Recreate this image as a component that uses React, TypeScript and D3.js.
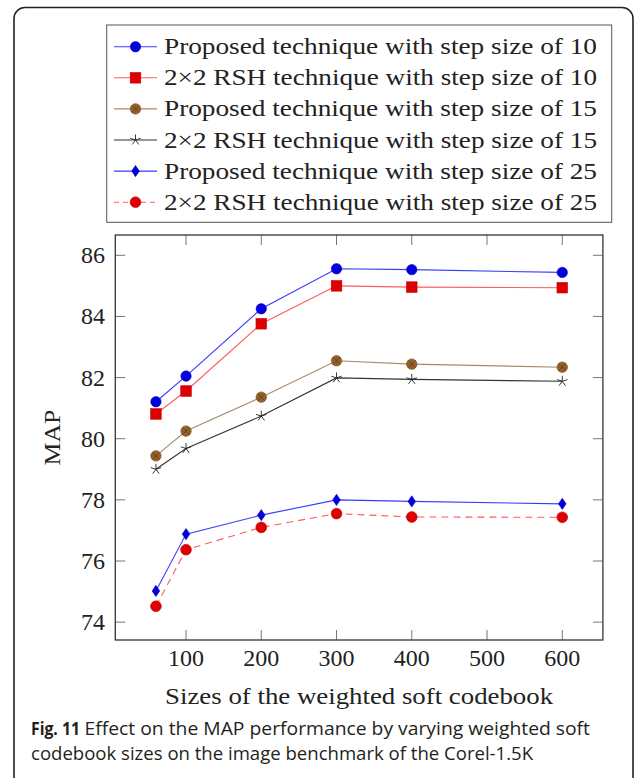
import React from "react";
import * as d3 from "d3";

const sizes = [60, 100, 200, 300, 400, 600];
const proposed10 = [81.21, 82.05, 84.25, 85.56, 85.53, 85.44];
const rsh10 = [80.81, 81.56, 83.76, 85.0, 84.96, 84.94];
const proposed15 = [79.44, 80.25, 81.36, 82.55, 82.44, 82.34];
const rsh15 = [79.0, 79.68, 80.74, 81.99, 81.94, 81.88];
const proposed25 = [75.02, 76.88, 77.5, 78.0, 77.95, 77.87];
const rsh25 = [74.52, 76.37, 77.1, 77.55, 77.44, 77.43];

const xTicks = [100, 200, 300, 400, 500, 600];
const yTicks = [74, 76, 78, 80, 82, 84, 86];

const legendLabels = [
  "Proposed technique with step size of 10",
  "2×2 RSH technique with step size of 10",
  "Proposed technique with step size of 15",
  "2×2 RSH technique with step size of 15",
  "Proposed technique with step size of 25",
  "2×2 RSH technique with step size of 25",
];

type Mark = "circle" | "square" | "brown" | "star" | "diamond" | "redcircle";

const seriesDefs: { values: number[]; line: string; fill: string; mark: Mark; dash?: string }[] = [
  { values: proposed10, line: "#3a3aff", fill: "#0000dd", mark: "circle" },
  { values: rsh10, line: "#ff5a5a", fill: "#dd0000", mark: "square" },
  { values: proposed15, line: "#a68a6e", fill: "#99642c", mark: "brown" },
  { values: rsh15, line: "#333333", fill: "#222222", mark: "star" },
  { values: proposed25, line: "#3a3aff", fill: "#0000dd", mark: "diamond" },
  { values: rsh25, line: "#ff5a5a", fill: "#dd0000", mark: "redcircle", dash: "7,5" },
];

const SERIF = "'Liberation Serif', 'Times New Roman', serif";
const SANS = "'Open Sans', 'Noto Sans', sans-serif";

function Marker({ kind, x, y, fill }: { kind: Mark; x: number; y: number; fill: string }) {
  switch (kind) {
    case "circle":
      return <circle cx={x} cy={y} r={5.2} fill={fill} stroke="#0000bb" strokeWidth={0.6} />;
    case "redcircle":
      return <circle cx={x} cy={y} r={5.4} fill={fill} stroke="#cc0000" strokeWidth={0.6} />;
    case "square":
      return <rect x={x - 5.3} y={y - 5.3} width={10.6} height={10.6} fill={fill} stroke="#cc0000" strokeWidth={0.6} />;
    case "brown": {
      const r = 5.2;
      const k = r * 0.7;
      return (
        <g>
          <circle cx={x} cy={y} r={r} fill={fill} stroke="#7a4d20" strokeWidth={0.7} />
          <line x1={x - k} y1={y - k} x2={x + k} y2={y + k} stroke="#5e3a16" strokeWidth={0.8} />
          <line x1={x - k} y1={y + k} x2={x + k} y2={y - k} stroke="#5e3a16" strokeWidth={0.8} />
          <line x1={x - r + 1} y1={y} x2={x + r - 1} y2={y} stroke="#7a4d20" strokeWidth={0.4} />
          <line x1={x} y1={y - r + 1} x2={x} y2={y + r - 1} stroke="#7a4d20" strokeWidth={0.4} />
        </g>
      );
    }
    case "star": {
      const r = 5.5;
      const spokes = d3.range(5).map((i) => {
        const a = -Math.PI / 2 + (i * 2 * Math.PI) / 5;
        return <line key={i} x1={x} y1={y} x2={x + r * Math.cos(a)} y2={y + r * Math.sin(a)} stroke={fill} strokeWidth={0.9} />;
      });
      return <g>{spokes}</g>;
    }
    case "diamond":
      return (
        <path
          d={`M${x},${y - 5.6}L${x + 3.8},${y}L${x},${y + 5.6}L${x - 3.8},${y}Z`}
          fill={fill}
          stroke="#0000bb"
          strokeWidth={0.6}
        />
      );
  }
}

export default function App() {
  const W = 635;
  const H = 778;
  const left = 115.3;
  const right = 602.9;
  const top = 235;
  const bottom = 640;

  const xMin = 60 - 0.1 * (600 - 60);
  const xMax = 600 + 0.1 * (600 - 60);
  const allY = seriesDefs.flatMap((s) => s.values);
  const yLo = d3.min(allY)!;
  const yHi = d3.max(allY)!;
  const yPad = 0.1 * (yHi - yLo);

  const x = d3.scaleLinear().domain([xMin, xMax]).range([left, right]);
  const y = d3.scaleLinear().domain([yLo - yPad, yHi + yPad]).range([bottom, top]);

  const line = d3
    .line<number>()
    .x((_, i) => x(sizes[i]))
    .y((d) => y(d));

  const tickLen = 10;

  // legend layout
  const lgLeft = 106.7;
  const lgTop = 25;
  const lgRight = 611.7;
  const lgBottom = 222.3;
  const rowY0 = 46.7;
  const rowStep = 31.1;

  return (
    <svg width={W} height={H} style={{ position: "absolute", left: 0, top: 0, background: "#fff" }}>
      <rect x={0} y={0} width={W} height={H} fill="#fff" />
      {/* figure frame */}
      <rect x={14} y={7.5} width={619} height={800} rx={11} ry={11} fill="none" stroke="#222" strokeWidth={1.6} />

      {/* legend */}
      <rect x={lgLeft} y={lgTop} width={lgRight - lgLeft} height={lgBottom - lgTop} fill="#fff" stroke="#555" strokeWidth={1} />
      {seriesDefs.map((s, i) => {
        const ry = rowY0 + i * rowStep;
        return (
          <g key={i}>
            <line x1={114} x2={157} y1={ry} y2={ry} stroke={s.line} strokeWidth={1.1} strokeDasharray={s.dash ? "5,4" : undefined} />
            <Marker kind={s.mark} x={135.5} y={ry} fill={s.fill} />
            <text x={164} y={ry + 7.5} fontFamily={SERIF} fontSize={24} fill="#222" textLength={433} lengthAdjust="spacingAndGlyphs">
              {legendLabels[i]}
            </text>
          </g>
        );
      })}

      {/* ticks */}
      {xTicks.map((t) => (
        <g key={"x" + t}>
          <line x1={x(t)} x2={x(t)} y1={bottom} y2={bottom - tickLen} stroke="#777" strokeWidth={1} />
          <line x1={x(t)} x2={x(t)} y1={top} y2={top + tickLen} stroke="#777" strokeWidth={1} />
          <text x={x(t)} y={666.3} textAnchor="middle" fontFamily={SERIF} fontSize={24} fill="#222">
            {t}
          </text>
        </g>
      ))}
      {yTicks.map((t) => (
        <g key={"y" + t}>
          <line x1={left} x2={left + tickLen} y1={y(t)} y2={y(t)} stroke="#777" strokeWidth={1} />
          <line x1={right} x2={right - tickLen} y1={y(t)} y2={y(t)} stroke="#777" strokeWidth={1} />
          <text x={105} y={y(t) + 8} textAnchor="end" fontFamily={SERIF} fontSize={24} fill="#222">
            {t}
          </text>
        </g>
      ))}

      {/* series */}
      {seriesDefs.map((s, i) => (
        <g key={"s" + i}>
          <path d={line(s.values)!} fill="none" stroke={s.line} strokeWidth={1.1} strokeDasharray={s.dash} />
          {s.values.map((v, j) => (
            <Marker key={j} kind={s.mark} x={x(sizes[j])} y={y(v)} fill={s.fill} />
          ))}
        </g>
      ))}

      {/* plot frame */}
      <rect x={left} y={top} width={right - left} height={bottom - top} fill="none" stroke="#333" strokeWidth={1.3} />

      {/* axis labels */}
      <text x={(left + right) / 2} y={703.5} textAnchor="middle" fontFamily={SERIF} fontSize={24} fill="#222" textLength={388} lengthAdjust="spacingAndGlyphs">
        Sizes of the weighted soft codebook
      </text>
      <text
        transform={`translate(60,${(top + bottom) / 2}) rotate(-90)`}
        textAnchor="middle"
        fontFamily={SERIF}
        fontSize={24}
        fill="#222"
        textLength={56}
        lengthAdjust="spacingAndGlyphs"
      >
        MAP
      </text>

      {/* caption */}
      <text x={31} y={734.5} fontFamily={SANS} fontSize={17.5} fontWeight="bold" fill="#231f20" textLength={49} lengthAdjust="spacingAndGlyphs">
        Fig. 11
      </text>
      <text x={84.5} y={734.5} fontFamily={SANS} fontSize={17.5} fill="#231f20" textLength={505.5} lengthAdjust="spacingAndGlyphs">
        Effect on the MAP performance by varying weighted soft
      </text>
      <text x={31} y={759.5} fontFamily={SANS} fontSize={17.5} fill="#231f20" textLength={502} lengthAdjust="spacingAndGlyphs">
        codebook sizes on the image benchmark of the Corel-1.5K
      </text>
    </svg>
  );
}
